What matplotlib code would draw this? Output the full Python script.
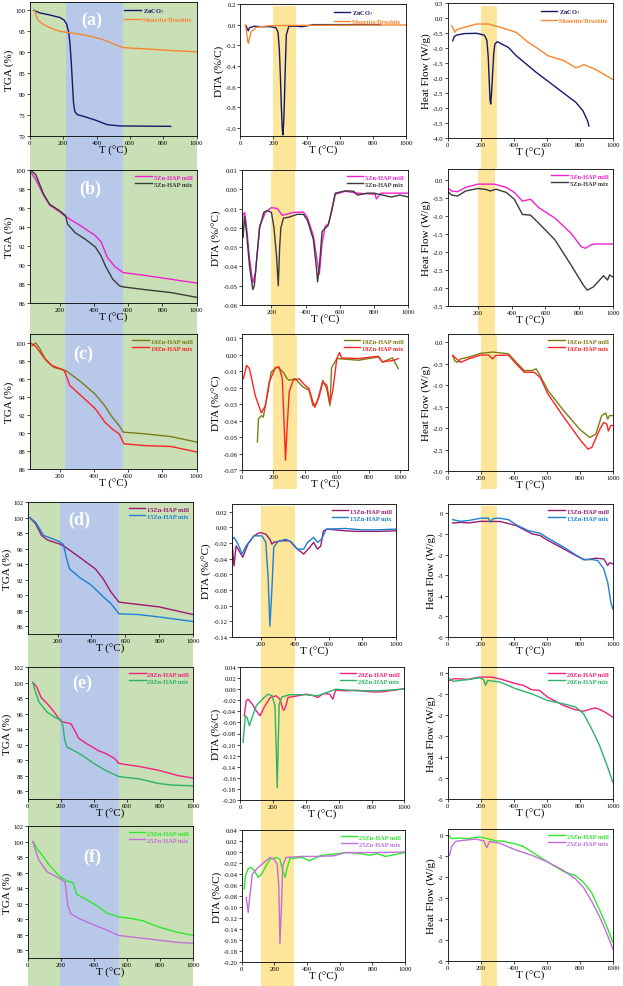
import matplotlib
matplotlib.use("Agg")
import matplotlib.pyplot as plt
import matplotlib.transforms as mtransforms
from matplotlib.patches import Rectangle
import numpy as np

plt.rcParams["font.family"] = ["Liberation Serif", "DejaVu Serif"]
plt.rcParams["mathtext.fontset"] = "stix"

# ---------------- data ----------------
# (a) ZnCO3 / Monetite-Brushite
tga_a_zn_x = [25, 60, 120, 180, 205, 220, 232, 240, 248, 255, 262, 270, 285, 330, 400, 465, 540, 845]
tga_a_zn_y = [100, 99.4, 98.9, 98.3, 97.7, 96.8, 95.0, 92.5, 88.0, 83.0, 78.0, 75.8, 75.1, 74.6, 73.7, 72.7, 72.4, 72.3]
tga_a_mb_x = [30, 40, 50, 83, 130, 180, 250, 345, 440, 500, 560, 650, 774, 900, 1000]
tga_a_mb_y = [100, 98.5, 97.6, 96.6, 95.7, 95.0, 94.6, 94.0, 93.0, 92.0, 91.1, 90.9, 90.6, 90.3, 90.1]
dta_a_zn_x = [35, 42, 48, 55, 84, 130, 180, 215, 228, 236, 242, 248, 253, 257, 262, 267, 272, 278, 293, 330, 372, 444, 563, 845]
dta_a_zn_y = [-0.01, -0.04, -0.06, -0.03, -0.016, -0.02, -0.02, -0.03, -0.074, -0.25, -0.5, -0.8, -1.0, -1.07, -0.95, -0.7, -0.4, -0.1, -0.016, -0.015, -0.02, 0.0, 0.0, 0.0]
dta_a_mb_x = [30, 36, 41, 46, 50, 55, 65, 96, 180, 300, 500, 800, 1000]
dta_a_mb_y = [-0.003, -0.05, -0.11, -0.17, -0.18, -0.14, -0.07, -0.026, -0.01, -0.008, -0.006, -0.004, -0.003]
hf_a_zn_x = [31, 40, 55, 100, 175, 223, 238, 246, 252, 257, 261, 266, 272, 279, 286, 300, 368, 416, 536, 656, 776, 820, 849, 855]
hf_a_zn_y = [-0.76, -0.62, -0.57, -0.52, -0.51, -0.57, -0.75, -1.3, -2.1, -2.75, -2.87, -2.5, -1.9, -1.2, -0.87, -0.79, -0.98, -1.26, -1.81, -2.31, -2.81, -3.1, -3.45, -3.6]
hf_a_mb_x = [24, 35, 43, 55, 103, 175, 248, 320, 416, 488, 536, 608, 704, 776, 800, 825, 897, 1000]
hf_a_mb_y = [-0.26, -0.35, -0.48, -0.39, -0.31, -0.2, -0.2, -0.31, -0.48, -0.81, -0.98, -1.26, -1.42, -1.66, -1.62, -1.55, -1.72, -2.05]

# (b) 5Zn-HAP
tga_b_mill_x = [30, 60, 107, 141, 200, 234, 316, 408, 443, 478, 524, 571, 700, 850, 1000]
tga_b_mill_y = [99.8, 99.0, 97.3, 96.3, 95.6, 95.1, 94.2, 93.1, 92.4, 90.8, 89.8, 89.2, 88.9, 88.5, 88.1]
tga_b_mix_x = [30, 60, 107, 141, 200, 234, 246, 290, 350, 408, 440, 470, 510, 550, 570, 700, 850, 1000]
tga_b_mix_y = [100, 99.5, 97.4, 96.4, 95.7, 95.2, 94.3, 93.4, 92.7, 91.9, 91.0, 89.8, 88.5, 87.8, 87.7, 87.4, 87.1, 86.6]
dta_b_mill_x = [30, 44, 54, 72, 91, 107, 131, 165, 200, 235, 263, 329, 387, 410, 445, 469, 480, 496, 515, 534, 550, 573, 632, 702, 807, 813, 841, 1000]
dta_b_mill_y = [-0.0139, -0.012, -0.019, -0.036, -0.0485, -0.043, -0.019, -0.012, -0.0095, -0.010, -0.0135, -0.012, -0.0118, -0.0147, -0.024, -0.038, -0.044, -0.028, -0.019, -0.018, -0.012, -0.0026, -0.001, -0.002, -0.0026, -0.005, -0.002, -0.002]
dta_b_mix_x = [26, 35, 42, 54, 72, 91, 100, 115, 131, 155, 175, 200, 215, 230, 240, 248, 255, 270, 300, 350, 387, 410, 445, 462, 470, 480, 496, 515, 530, 550, 573, 632, 680, 702, 760, 800, 850, 900, 950, 1000]
dta_b_mix_y = [-0.013, -0.025, -0.014, -0.022, -0.04, -0.052, -0.05, -0.035, -0.02, -0.012, -0.011, -0.012, -0.02, -0.035, -0.05, -0.03, -0.02, -0.015, -0.0145, -0.013, -0.013, -0.016, -0.026, -0.04, -0.048, -0.04, -0.022, -0.02, -0.019, -0.012, -0.002, -0.0008, -0.001, -0.003, -0.002, -0.002, -0.003, -0.004, -0.003, -0.004]
hf_b_mill_x = [7, 43, 79, 127, 200, 296, 368, 416, 464, 512, 560, 656, 752, 812, 837, 873, 897, 1000]
hf_b_mill_y = [-0.17, -0.31, -0.33, -0.21, -0.12, -0.12, -0.21, -0.35, -0.59, -0.54, -0.77, -1.06, -1.48, -1.85, -1.9, -1.8, -1.78, -1.78]
hf_b_mix_x = [7, 43, 79, 127, 200, 250, 272, 308, 368, 416, 464, 512, 560, 656, 752, 825, 849, 885, 945, 969, 981, 1000]
hf_b_mix_y = [-0.26, -0.42, -0.45, -0.31, -0.24, -0.27, -0.31, -0.26, -0.35, -0.54, -0.96, -0.98, -1.2, -1.66, -2.36, -2.92, -3.06, -2.97, -2.66, -2.78, -2.64, -2.69]

# (c) 10Zn-HAP
tga_c_mill_x = [37, 60, 83, 118, 165, 223, 246, 316, 408, 464, 501, 548, 571, 700, 850, 1000]
tga_c_mill_y = [99.7, 100, 99.4, 98.1, 97.3, 97.0, 96.8, 95.8, 94.3, 93.0, 91.9, 90.8, 90.1, 89.9, 89.6, 89.0]
tga_c_mix_x = [30, 60, 107, 153, 223, 234, 258, 316, 408, 464, 510, 548, 565, 575, 700, 850, 1000]
tga_c_mix_y = [100, 99.6, 98.4, 97.5, 97.0, 96.6, 95.3, 94.3, 92.7, 91.2, 90.4, 89.9, 89.2, 88.8, 88.6, 88.5, 87.9]
dta_c_mill_x = [100, 107, 125, 137, 162, 187, 225, 262, 287, 300, 337, 387, 425, 450, 475, 512, 537, 557, 567, 600, 737, 862, 887, 950, 987]
dta_c_mill_y = [-0.053, -0.039, -0.037, -0.038, -0.025, -0.0105, -0.0075, -0.0105, -0.0146, -0.0156, -0.0146, -0.0196, -0.0216, -0.031, -0.029, -0.0156, -0.021, -0.031, -0.008, -0.0024, -0.0034, -0.0014, -0.0045, -0.002, -0.0085]
dta_c_mix_x = [12, 32, 50, 87, 125, 150, 175, 212, 237, 257, 267, 277, 287, 300, 325, 362, 400, 425, 450, 462, 487, 512, 537, 557, 575, 600, 617, 630, 737, 862, 887, 962, 987]
dta_c_mix_y = [-0.0146, -0.0065, -0.0085, -0.025, -0.0354, -0.031, -0.0166, -0.008, -0.0075, -0.0146, -0.039, -0.064, -0.045, -0.0227, -0.0156, -0.0146, -0.0186, -0.0206, -0.029, -0.032, -0.026, -0.0166, -0.0186, -0.0296, -0.0217, -0.0024, 0.0012, -0.002, -0.0024, -0.001, -0.0045, -0.0034, -0.0024]
hf_c_mill_x = [31, 43, 60, 79, 127, 200, 272, 368, 416, 464, 512, 536, 560, 608, 704, 800, 861, 897, 933, 957, 969, 981, 1000]
hf_c_mill_y = [-0.31, -0.43, -0.47, -0.39, -0.35, -0.26, -0.23, -0.27, -0.47, -0.66, -0.66, -0.62, -0.78, -1.13, -1.6, -2.03, -2.22, -2.14, -1.71, -1.65, -1.79, -1.71, -1.71]
hf_c_mix_x = [31, 79, 127, 200, 248, 272, 291, 368, 416, 464, 524, 560, 608, 704, 800, 849, 873, 921, 945, 964, 973, 988, 1000]
hf_c_mix_y = [-0.31, -0.47, -0.39, -0.3, -0.3, -0.39, -0.31, -0.3, -0.51, -0.7, -0.7, -0.82, -1.21, -1.75, -2.26, -2.49, -2.45, -2.03, -1.87, -1.91, -2.07, -1.94, -1.94]

# (d) 15Zn-HAP
tga_d_mill_x = [36, 71, 106, 141, 212, 246, 329, 422, 469, 515, 562, 796, 1000]
tga_d_mill_y = [100, 99.2, 97.7, 97.1, 96.6, 96.2, 94.9, 93.4, 92.1, 90.4, 89.1, 88.5, 87.5]
tga_d_mix_x = [36, 71, 118, 165, 212, 235, 254, 270, 329, 398, 469, 515, 562, 679, 796, 1000]
tga_d_mix_y = [100, 99.4, 97.7, 97.3, 96.9, 96.5, 94.7, 93.4, 92.3, 91.3, 89.8, 88.9, 87.6, 87.5, 87.2, 86.6]
dta_d_mill_x = [28, 40, 52, 64, 92, 122, 158, 193, 228, 252, 264, 275, 322, 369, 404, 452, 487, 511, 534, 553, 569, 593, 699, 769, 887, 1000]
dta_d_mill_y = [-0.019, -0.049, -0.0235, -0.0277, -0.038, -0.0213, -0.0107, -0.0064, -0.0085, -0.015, -0.0213, -0.019, -0.017, -0.017, -0.0256, -0.034, -0.0256, -0.019, -0.0277, -0.0235, -0.0043, -0.0021, -0.0043, -0.005, -0.005, -0.0043]
dta_d_mix_x = [28, 40, 64, 87, 111, 158, 205, 228, 242, 252, 264, 275, 299, 346, 381, 416, 452, 475, 511, 534, 558, 586, 699, 793, 887, 1000]
dta_d_mix_y = [-0.015, -0.0128, -0.0213, -0.034, -0.0235, -0.0107, -0.0107, -0.019, -0.066, -0.126, -0.079, -0.0256, -0.018, -0.015, -0.019, -0.0277, -0.0277, -0.019, -0.0128, -0.019, -0.015, -0.0021, -0.0013, -0.003, -0.003, -0.0021]
hf_d_mill_x = [31, 79, 127, 200, 320, 416, 512, 560, 608, 704, 776, 825, 849, 897, 945, 969, 981, 1000]
hf_d_mill_y = [-0.47, -0.44, -0.47, -0.39, -0.4, -0.6, -1.0, -1.08, -1.32, -1.73, -2.05, -2.24, -2.24, -2.18, -2.21, -2.53, -2.4, -2.45]
hf_d_mix_x = [31, 79, 127, 200, 248, 260, 272, 308, 368, 416, 488, 560, 608, 704, 776, 825, 873, 909, 945, 969, 988, 1000]
hf_d_mix_y = [-0.31, -0.39, -0.35, -0.24, -0.24, -0.44, -0.27, -0.23, -0.31, -0.56, -0.84, -0.97, -1.21, -1.65, -2.02, -2.26, -2.24, -2.29, -2.69, -3.34, -4.3, -4.63]

# (e) 20Zn-HAP
tga_e_mill_x = [31, 55, 80, 116, 152, 200, 260, 284, 308, 357, 429, 477, 525, 549, 573, 670, 790, 910, 1000]
tga_e_mill_y = [100, 99.4, 98.1, 97.3, 96.4, 95.0, 94.7, 93.8, 92.8, 92.1, 91.2, 90.8, 90.2, 89.6, 89.5, 89.2, 88.7, 88.0, 87.7]
tga_e_mix_x = [31, 43, 67, 116, 164, 200, 212, 224, 236, 308, 405, 477, 549, 622, 670, 790, 863, 1000]
tga_e_mix_y = [100, 99.0, 97.5, 96.2, 95.5, 95.2, 94.4, 92.5, 91.7, 90.9, 89.5, 88.6, 87.9, 87.7, 87.6, 87.0, 86.8, 86.7]
dta_e_mill_x = [24, 36, 48, 73, 97, 121, 145, 182, 218, 242, 259, 266, 278, 291, 351, 400, 448, 472, 508, 545, 564, 581, 642, 714, 799, 860, 932, 1000]
dta_e_mill_y = [-0.048, -0.021, -0.018, -0.027, -0.039, -0.048, -0.033, -0.015, -0.012, -0.018, -0.036, -0.038, -0.03, -0.015, -0.012, -0.009, -0.012, -0.015, -0.008, -0.009, -0.018, -0.002, -0.003, -0.002, -0.005, -0.005, -0.002, 0.001]
dta_e_mix_x = [17, 31, 41, 56, 65, 97, 145, 170, 194, 211, 220, 225, 230, 237, 254, 303, 400, 472, 545, 581, 714, 835, 1000]
dta_e_mix_y = [-0.096, -0.048, -0.051, -0.066, -0.057, -0.03, -0.015, -0.009, -0.012, -0.03, -0.117, -0.178, -0.117, -0.027, -0.014, -0.01, -0.01, -0.012, -0.004, 0.0, -0.003, -0.003, 0.0]
hf_e_mill_x = [12, 36, 73, 121, 194, 266, 315, 412, 460, 508, 557, 605, 702, 775, 823, 872, 896, 944, 1000]
hf_e_mill_y = [-0.37, -0.29, -0.29, -0.32, -0.21, -0.21, -0.29, -0.52, -0.6, -0.81, -0.84, -1.16, -1.56, -1.76, -1.83, -1.71, -1.67, -1.83, -2.11]
hf_e_mix_x = [12, 36, 73, 121, 194, 218, 230, 242, 315, 412, 508, 605, 702, 775, 823, 872, 920, 969, 1000]
hf_e_mix_y = [-0.29, -0.41, -0.37, -0.33, -0.24, -0.33, -0.6, -0.37, -0.44, -0.76, -1.0, -1.32, -1.48, -1.63, -1.95, -2.67, -3.46, -4.49, -5.2]

# (f) 25Zn-HAP
tga_f_mill_x = [31, 55, 92, 128, 188, 236, 272, 296, 332, 405, 477, 549, 622, 694, 790, 887, 1000]
tga_f_mill_y = [100, 99.1, 98.1, 97.0, 95.6, 94.9, 94.7, 93.2, 92.8, 91.9, 90.8, 90.3, 90.1, 89.8, 89.0, 88.4, 87.9]
tga_f_mix_x = [31, 43, 67, 116, 188, 224, 231, 241, 260, 308, 405, 477, 549, 670, 790, 910, 1000]
tga_f_mix_y = [100, 99.1, 97.6, 96.1, 95.3, 94.8, 93.8, 91.8, 90.7, 90.1, 89.2, 88.6, 87.9, 87.6, 87.3, 87.0, 86.9]
dta_f_mill_x = [17, 24, 41, 58, 78, 102, 126, 150, 175, 211, 235, 252, 267, 277, 296, 369, 417, 442, 490, 563, 636, 709, 782, 830, 879, 951, 1000]
dta_f_mill_y = [-0.067, -0.043, -0.03, -0.028, -0.034, -0.046, -0.039, -0.025, -0.013, -0.01, -0.013, -0.034, -0.046, -0.031, -0.012, -0.01, -0.016, -0.012, -0.006, -0.004, -0.001, -0.002, -0.006, -0.003, -0.008, -0.004, -0.001]
dta_f_mix_x = [29, 41, 49, 66, 102, 150, 175, 199, 218, 228, 235, 245, 252, 272, 369, 466, 563, 636, 830, 1000]
dta_f_mix_y = [-0.083, -0.11, -0.086, -0.04, -0.028, -0.016, -0.01, -0.013, -0.022, -0.061, -0.167, -0.091, -0.025, -0.01, -0.008, -0.008, -0.007, -0.001, -0.001, 0.0]
hf_f_mill_x = [12, 24, 73, 121, 194, 242, 291, 339, 412, 460, 508, 557, 605, 702, 775, 823, 872, 920, 956, 981, 1000]
hf_f_mill_y = [-0.05, -0.16, -0.13, -0.16, -0.08, -0.16, -0.26, -0.29, -0.42, -0.54, -0.78, -1.03, -1.27, -1.73, -1.93, -2.25, -2.74, -3.56, -4.21, -4.7, -5.1]
hf_f_mix_x = [12, 24, 48, 97, 169, 218, 237, 254, 315, 412, 508, 605, 702, 775, 823, 872, 920, 956, 981, 1000]
hf_f_mix_y = [-0.95, -0.54, -0.29, -0.24, -0.18, -0.26, -0.59, -0.29, -0.38, -0.7, -0.95, -1.27, -1.68, -2.09, -2.5, -3.15, -3.88, -4.54, -5.02, -5.43]

# ---------------- layout (pixel boxes: left, top, right, bottom) ----------------
W, H = 623, 987
GREEN, BLUE, YELLOW = "#c9dfb5", "#b8c8e8", "#fde59a"

fig = plt.figure(figsize=(W / 100, H / 100), dpi=100)


def add_ax(box):
    l, t, r, b = box
    return fig.add_axes([l / W, 1 - b / H, (r - l) / W, (b - t) / H])


def band(ax, x0, x1, top, bottom, color):
    tr = mtransforms.blended_transform_factory(ax.transData, fig.transFigure)
    ax.add_patch(Rectangle((x0, 1 - bottom / H), x1 - x0, (bottom - top) / H,
                           transform=tr, facecolor=color, lw=0, zorder=0, clip_on=False))


def style(ax, xlim, xticks, ylim, yticks, yfmt, ylabel):
    ax.set_xlim(xlim)
    ax.set_xticks(xticks)
    ax.set_ylim(ylim)
    ax.set_yticks(yticks)
    ax.set_yticklabels([yfmt.format(v + 0.0) for v in yticks])
    ax.tick_params(labelsize=4.8, length=2, width=0.5, pad=1, direction="out")
    ax.set_xlabel("T (°C)", fontsize=8, labelpad=0)
    ax.set_ylabel(ylabel, fontsize=8, labelpad=1)
    for sp in ax.spines.values():
        sp.set_linewidth(0.6)


def legend(ax, colors):
    leg = ax.legend(loc="upper right", frameon=False, handlelength=2.6, borderaxespad=0.25,
                    labelspacing=0.25, handletextpad=0.3, prop={"size": 4.6, "weight": "bold"})
    for txt, c in zip(leg.get_texts(), colors):
        txt.set_color(c)


rows = [
    dict(tag="(a)", lab=(0.37, 0.87),
         tga_box=(29.8, 3, 196.6, 137), tga_sh=(3, 171), tga_blue=(215, 560), tga_xlim=(0, 1000),
         tga_ylim=(70, 102), tga_yt=np.arange(70, 101, 5),
         dta_box=(240.3, 5, 405.9, 137), dta_sh=(7, 171), dta_band=(195, 335), dta_xlim=(0, 1000),
         dta_ylim=(-1.08, 0.2), dta_yt=np.round(np.arange(-1.0, 0.21, 0.2), 1), dta_fmt="{:.1f}", dta_lab="DTA (%/C)",
         hf_box=(447.6, 4, 612.8, 139), hf_sh=(7, 170), hf_xlim=(0, 1000),
         hf_ylim=(-4.0, 0.5), hf_yt=np.round(np.arange(-4.0, 0.51, 0.5), 1), hf_fmt="{:.1f}",
         names=["ZnCO$_3$", "Monetite/Brushite"], colors=["#16186a", "#f7862f"],
         tga=[(tga_a_zn_x, tga_a_zn_y), (tga_a_mb_x, tga_a_mb_y)],
         dta=[(dta_a_zn_x, dta_a_zn_y), (dta_a_mb_x, dta_a_mb_y)],
         hf=[(hf_a_zn_x, hf_a_zn_y), (hf_a_mb_x, hf_a_mb_y)]),
    dict(tag="(b)", lab=(0.36, 0.86),
         tga_box=(29.8, 171, 196.6, 304), tga_sh=(171, 335), tga_blue=(232, 568), tga_xlim=(25, 1000),
         tga_ylim=(86, 100), tga_yt=np.arange(86, 101, 2),
         dta_box=(241.5, 171, 408.3, 306), dta_sh=(171, 335), dta_band=(195, 335), dta_xlim=(25, 1000),
         dta_ylim=(-0.06, 0.01), dta_yt=np.round(np.arange(-0.06, 0.011, 0.01), 2), dta_fmt="{:.2f}", dta_lab="DTA (%/°C)",
         hf_box=(447.6, 170, 612.8, 307), hf_sh=(170, 335), hf_xlim=(20, 1000),
         hf_ylim=(-3.5, 0.3), hf_yt=np.round(np.arange(-3.5, 0.01, 0.5), 1), hf_fmt="{:.1f}",
         names=["5Zn-HAP mill", "5Zn-HAP mix"], colors=["#f21fd0", "#3b3b3b"],
         tga=[(tga_b_mill_x, tga_b_mill_y), (tga_b_mix_x, tga_b_mix_y)],
         dta=[(dta_b_mill_x, dta_b_mill_y), (dta_b_mix_x, dta_b_mix_y)],
         hf=[(hf_b_mill_x, hf_b_mill_y), (hf_b_mix_x, hf_b_mix_y)]),
    dict(tag="(c)", lab=(0.32, 0.86),
         tga_box=(29.8, 335, 196.6, 470), tga_sh=(335, 470), tga_blue=(232, 568), tga_xlim=(25, 1000),
         tga_ylim=(86, 101), tga_yt=np.arange(86, 101, 2),
         dta_box=(241.5, 335, 408.3, 471), dta_sh=(335, 490), dta_band=(200, 350), dta_xlim=(0, 1050),
         dta_ylim=(-0.07, 0.0125), dta_yt=np.round(np.arange(-0.07, 0.011, 0.01), 2), dta_fmt="{:.2f}", dta_lab="DTA (%/°C)",
         hf_box=(447.6, 335, 612.8, 472), hf_sh=(335, 490), hf_xlim=(0, 1000),
         hf_ylim=(-3.0, 0.19), hf_yt=np.round(np.arange(-3.0, 0.01, 0.5), 1), hf_fmt="{:.1f}",
         names=["10Zn-HAP mill", "10Zn-HAP mix"], colors=["#7b7d12", "#ff2424"],
         tga=[(tga_c_mill_x, tga_c_mill_y), (tga_c_mix_x, tga_c_mix_y)],
         dta=[(dta_c_mill_x, dta_c_mill_y), (dta_c_mix_x, dta_c_mix_y)],
         hf=[(hf_c_mill_x, hf_c_mill_y), (hf_c_mix_x, hf_c_mix_y)]),
    dict(tag="(d)", lab=(0.31, 0.87),
         tga_box=(27.8, 503, 193.4, 635), tga_sh=(503, 668), tga_blue=(217, 563), tga_xlim=(25, 1000),
         tga_ylim=(85, 102), tga_yt=np.arange(86, 103, 2),
         dta_box=(231.5, 505, 396.3, 638), dta_sh=(507, 668), dta_band=(200, 400), dta_xlim=(25, 1000),
         dta_ylim=(-0.14, 0.03), dta_yt=np.round(np.arange(-0.14, 0.021, 0.02), 2), dta_fmt="{:.2f}", dta_lab="DTA (%/°C)",
         hf_box=(447.6, 505, 612.8, 638), hf_sh=(507, 668), hf_xlim=(0, 1000),
         hf_ylim=(-6, 0.45), hf_yt=np.arange(-6, 1, 1), hf_fmt="{:.0f}",
         names=["15Zn-HAP mill", "15Zn-HAP mix"], colors=["#9b1b72", "#1f80d2"],
         tga=[(tga_d_mill_x, tga_d_mill_y), (tga_d_mix_x, tga_d_mix_y)],
         dta=[(dta_d_mill_x, dta_d_mill_y), (dta_d_mix_x, dta_d_mix_y)],
         hf=[(hf_d_mill_x, hf_d_mill_y), (hf_d_mix_x, hf_d_mix_y)]),
    dict(tag="(e)", lab=(0.33, 0.88),
         tga_box=(27.8, 668, 193.4, 800), tga_sh=(668, 827), tga_blue=(197, 553), tga_xlim=(0, 1000),
         tga_ylim=(85, 102), tga_yt=np.arange(86, 103, 2),
         dta_box=(240.3, 668, 404.3, 801), dta_sh=(668, 831), dta_band=(125, 330), dta_xlim=(0, 1000),
         dta_ylim=(-0.2, 0.04), dta_yt=np.round(np.arange(-0.2, 0.041, 0.02), 2), dta_fmt="{:.2f}", dta_lab="DTA (%/C)",
         hf_box=(447.6, 668, 612.8, 800), hf_sh=(668, 830), hf_xlim=(0, 1000),
         hf_ylim=(-6, 0.27), hf_yt=np.arange(-6, 1, 1), hf_fmt="{:.0f}",
         names=["20Zn-HAP mill", "20Zn-HAP mix"], colors=["#f0207c", "#2bb36a"],
         tga=[(tga_e_mill_x, tga_e_mill_y), (tga_e_mix_x, tga_e_mix_y)],
         dta=[(dta_e_mill_x, dta_e_mill_y), (dta_e_mix_x, dta_e_mix_y)],
         hf=[(hf_e_mill_x, hf_e_mill_y), (hf_e_mix_x, hf_e_mix_y)]),
    dict(tag="(f)", lab=(0.39, 0.77),
         tga_box=(27.8, 827, 193.4, 959), tga_sh=(827, 987), tga_blue=(197, 553), tga_xlim=(0, 1000),
         tga_ylim=(85, 102), tga_yt=np.arange(86, 103, 2),
         dta_box=(241.5, 831, 405.1, 963), dta_sh=(831, 987), dta_band=(120, 320), dta_xlim=(0, 1000),
         dta_ylim=(-0.2, 0.04), dta_yt=np.round(np.arange(-0.2, 0.041, 0.02), 2), dta_fmt="{:.2f}", dta_lab="DTA (%/C)",
         hf_box=(447.6, 830, 612.8, 962), hf_sh=(830, 987), hf_xlim=(0, 1000),
         hf_ylim=(-6, 0.3), hf_yt=np.arange(-6, 1, 1), hf_fmt="{:.0f}",
         names=["25Zn-HAP mill", "25Zn-HAP mix"], colors=["#2ee82e", "#c070d8"],
         tga=[(tga_f_mill_x, tga_f_mill_y), (tga_f_mix_x, tga_f_mix_y)],
         dta=[(dta_f_mill_x, dta_f_mill_y), (dta_f_mix_x, dta_f_mix_y)],
         hf=[(hf_f_mill_x, hf_f_mill_y), (hf_f_mix_x, hf_f_mix_y)]),
]


def xticks_for(xlim):
    start = 0 if xlim[0] <= 0 else 200
    return np.arange(start, 1001, 200)


for r in rows:
    # TGA column: green / blue / green background
    ax = add_ax(r["tga_box"])
    top, bot = r["tga_sh"]
    x_lo, x_hi = r["tga_xlim"]
    b0, b1 = r["tga_blue"]
    band(ax, x_lo, b0, top, bot, GREEN)
    band(ax, b0, b1, top, bot, BLUE)
    band(ax, b1, x_hi, top, bot, GREEN)
    for (xs, ys), c, n in zip(r["tga"], r["colors"], r["names"]):
        ax.plot(xs, ys, color=c, lw=1.0, label=n)
    style(ax, r["tga_xlim"], xticks_for(r["tga_xlim"]), r["tga_ylim"], r["tga_yt"], "{:.0f}", "TGA (%)")
    legend(ax, r["colors"])
    ax.text(r["lab"][0], r["lab"][1], r["tag"], transform=ax.transAxes, color="white",
            fontsize=13, fontweight="bold", ha="center", va="center")

    # DTA column
    ax = add_ax(r["dta_box"])
    top, bot = r["dta_sh"]
    band(ax, r["dta_band"][0], r["dta_band"][1], top, bot, YELLOW)
    for (xs, ys), c, n in zip(r["dta"], r["colors"], r["names"]):
        ax.plot(xs, ys, color=c, lw=1.0, label=n)
    style(ax, r["dta_xlim"], xticks_for(r["dta_xlim"]), r["dta_ylim"], r["dta_yt"], r["dta_fmt"], r["dta_lab"])
    legend(ax, r["colors"])

    # Heat flow column
    ax = add_ax(r["hf_box"])
    top, bot = r["hf_sh"]
    band(ax, 200, 300, top, bot, YELLOW)
    for (xs, ys), c, n in zip(r["hf"], r["colors"], r["names"]):
        ax.plot(xs, ys, color=c, lw=1.0, label=n)
    style(ax, r["hf_xlim"], xticks_for(r["hf_xlim"]), r["hf_ylim"], r["hf_yt"], r["hf_fmt"], "Heat Flow (W/g)")
    legend(ax, r["colors"])

fig.savefig("out.png", dpi=100)
